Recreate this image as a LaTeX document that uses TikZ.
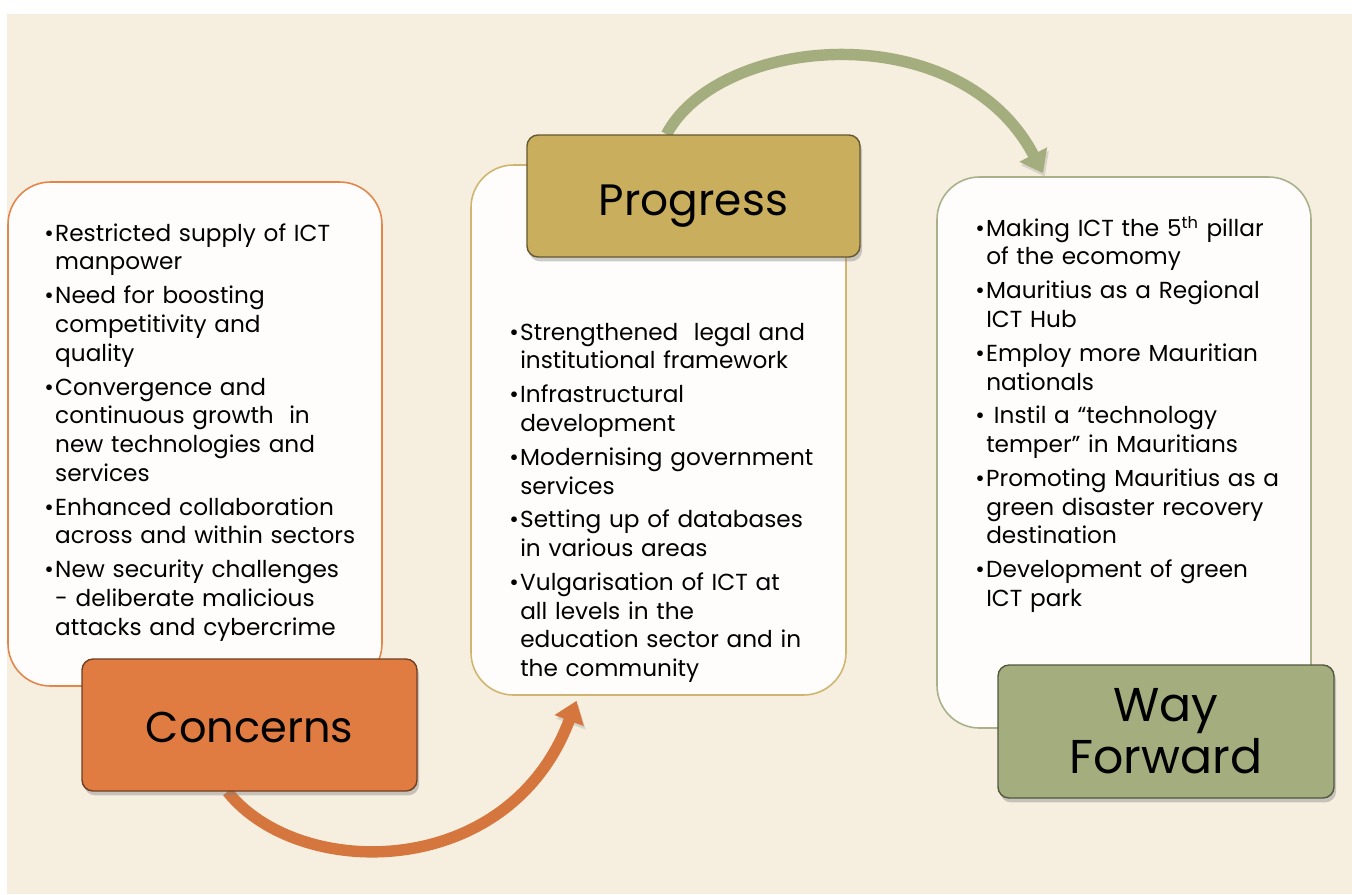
\documentclass[tikz,border=0pt]{standalone}
\usepackage{fontspec}
\setmainfont{Poppins}
\usetikzlibrary{arrows.meta, shadows, calc}

\definecolor{bgcream}{HTML}{F6EFE0}
\definecolor{boxwhite}{HTML}{FEFDFB}
\definecolor{concernorange}{HTML}{E07C41}
\definecolor{concernline}{HTML}{E3864C}
\definecolor{progressgold}{HTML}{C9AE5E}
\definecolor{progressline}{HTML}{CFB56F}
\definecolor{forwardolive}{HTML}{A4AD7E}
\definecolor{forwardline}{HTML}{A9B18B}

\pgfdeclarelayer{back}
\pgfdeclarelayer{arrows}
\pgfsetlayers{back,arrows,main}

% bullet with hanging indent (leftskip survives the \\ of ragged text)
\newcommand{\bitem}[1]{\par\addvspace{2.8pt}\leftskip=6.2pt\noindent\llap{\makebox[6.2pt][l]{\textbullet}}#1}

\begin{document}
\begin{tikzpicture}[x=0.02cm, y=-0.02cm,
    listbox/.style={draw=#1, fill=boxwhite, line width=0.9pt, rounded corners=0.85cm, inner sep=0pt},
    titlebox/.style={fill=#1, draw=#1!50!black, line width=0.8pt, rounded corners=0.22cm, inner sep=0pt,
        drop shadow={opacity=0.4, shadow xshift=1.2pt, shadow yshift=-2.5pt}},
    itemlist/.style={anchor=north west, inner sep=0pt, text width=7cm, align=left,
        font=\fontsize{13.2}{16.4}\selectfont},
    flowarrow/.style={draw=#1, line width=6.5pt, -{Triangle[width=17pt,length=12pt]},
        preaction={draw=black!60, opacity=0.2, transform canvas={shift={(1pt,-2pt)}}}}
]
\useasboundingbox (0,0) rectangle (1352,894);

\begin{pgfonlayer}{back}
% background
\fill[bgcream] (7,14) rectangle (1352,894);

% list boxes
\node[listbox=concernline, minimum width={374*0.02cm}, minimum height={504*0.02cm}] (cbox) at (195,434) {};
\node[listbox=progressline, minimum width={375*0.02cm}, minimum height={530*0.02cm}] (pbox) at (658.5,430) {};
\node[listbox=forwardline, minimum width={374*0.02cm}, minimum height={551*0.02cm}] (wbox) at (1124,452.5) {};
\end{pgfonlayer}

% title boxes
\node[titlebox=concernorange, minimum width={335*0.02cm}, minimum height={132*0.02cm},
    text height=20pt, text depth=0pt, font=\fontsize{24.5}{27}\selectfont] (cT) at (249.5,725) {Concerns};
\node[titlebox=progressgold, minimum width={333*0.02cm}, minimum height={122*0.02cm},
    text height=22pt, text depth=0pt, font=\fontsize{25}{27}\selectfont] (pT) at (693.5,196) {Progress};
\node[titlebox=forwardolive, minimum width={336*0.02cm}, minimum height={133*0.02cm},
    align=center, font=\fontsize{27}{29.5}\selectfont] (wT) at (1166,731.5) {Way\\Forward};

% bullet lists
\node[itemlist] (clist) at (44,207) {%
\bitem{Restricted supply of ICT\\manpower}
\bitem{Need for boosting\\competitivity and\\quality}
\bitem{Convergence and\\continuous growth~ in\\new technologies and\\services}
\bitem{Enhanced collaboration\\across and within sectors}
\bitem{New security challenges\\- deliberate malicious\\attacks and cybercrime}\par};

\node[itemlist] (plist) at (509,306) {%
\bitem{Strengthened~ legal and\\institutional framework}
\bitem{Infrastructural\\development}
\bitem{Modernising government\\services}
\bitem{Setting up of databases\\in various areas}
\bitem{Vulgarisation of ICT at\\all levels in the\\education sector and in\\the community}\par};

\node[itemlist] (wlist) at (975,202) {%
\bitem{Making ICT the 5\textsuperscript{th} pillar\\of the ecomomy}
\bitem{Mauritius as a Regional\\ICT Hub}
\bitem{Employ more Mauritian\\nationals}
\bitem{~Instil a “technology\\temper” in Mauritians}
\bitem{Promoting Mauritius as a\\green disaster recovery\\destination}
\bitem{Development of green\\ICT park}\par};

% curved arrows
\begin{pgfonlayer}{arrows}
\draw[flowarrow=concernorange!95!black] ($(cT.south)+(-22,0)$) .. controls +(72,90) and +(-67,180) .. ($(pbox.south)+(-82,5)$);
\draw[flowarrow=forwardolive] ($(pT.north)+(-27,0)$) .. controls +(53,-100) and +(-83,-159) .. ($(wbox.north)+(-81,-3)$);
\end{pgfonlayer}

\end{tikzpicture}
\end{document}
